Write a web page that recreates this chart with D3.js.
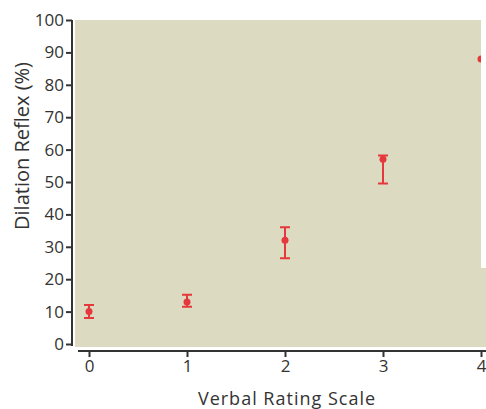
<!DOCTYPE html>
<html>
<head>
<meta charset="utf-8">
<script src="https://cdn.jsdelivr.net/npm/d3@7"></script>
<style>
  body { margin: 0; background: #fff; }
  text { font-family: 'Open Sans', 'Liberation Sans', sans-serif; fill: #333; }
</style>
</head>
<body>
<svg id="chart" width="486" height="409"></svg>
<script>
const ratings = [0, 1, 2, 3, 4];
const means = [10, 13, 32, 57, 88];
const lows = [8, 11.5, 26.5, 49.5, null];
const highs = [12, 15.2, 36, 58.2, null];
const yTicks = [0, 10, 20, 30, 40, 50, 60, 70, 80, 90, 100];

const width = 486,
  height = 409;

const svg = d3.select('#chart');

const x = d3.scaleLinear().domain([0, 4]).range([89, 481]);
const y = d3.scaleLinear().domain([0, 100]).range([344, 20]);

// plot panel
svg
  .append('rect')
  .attr('x', 75)
  .attr('y', 20)
  .attr('width', width - 75)
  .attr('height', 327)
  .attr('fill', '#dcdac0');

// y axis
svg
  .append('g')
  .attr('transform', 'translate(72,0)')
  .call(d3.axisLeft(y).tickValues(yTicks).tickSize(6).tickPadding(2))
  .call(g => g.select('.domain').attr('d', `M0,${y(100)}V${y(0) + 2}`))
  .call(g => g.selectAll('line, path').attr('stroke', '#333').attr('stroke-width', 2))
  .call(g => g.selectAll('text').attr('font-size', 17).attr('fill', '#333'));

// x axis
svg
  .append('g')
  .attr('transform', 'translate(0,351)')
  .call(d3.axisBottom(x).tickValues(ratings).tickFormat(d3.format('d')).tickSize(6).tickPadding(3))
  .call(g => g.select('.domain').attr('d', `M78,0H${width}`))
  .call(g => g.selectAll('line, path').attr('stroke', '#333').attr('stroke-width', 2))
  .call(g => g.selectAll('text').attr('font-size', 17).attr('fill', '#333'));

// axis titles
svg
  .append('text')
  .attr('x', 287)
  .attr('y', 405)
  .attr('text-anchor', 'middle')
  .attr('font-size', 18)
  .attr('letter-spacing', 1)
  .text('Verbal Rating Scale');

svg
  .append('text')
  .attr('transform', 'translate(29,62) rotate(-90)')
  .attr('text-anchor', 'end')
  .attr('font-size', 20)
  .text('Dilation Reflex (%)');

// error bars
const red = '#e5383d';
const bars = ratings
  .map((r, i) => ({ r, lo: lows[i], hi: highs[i] }))
  .filter(d => d.lo !== null);

svg
  .append('g')
  .selectAll('path')
  .data(bars)
  .join('path')
  .attr('fill', 'none')
  .attr('stroke', red)
  .attr('stroke-width', 2)
  .attr('d', d => {
    const cx = x(d.r);
    return `M${cx - 5},${y(d.hi)}H${cx + 5}M${cx},${y(d.hi)}V${y(d.lo)}M${cx - 5},${y(d.lo)}H${cx + 5}`;
  });

svg
  .append('g')
  .selectAll('circle')
  .data(ratings)
  .join('circle')
  .attr('cx', d => x(d))
  .attr('cy', (d, i) => y(means[i]))
  .attr('r', 3.5)
  .attr('fill', red);

// white strip on the right edge
svg
  .append('rect')
  .attr('x', 481)
  .attr('y', 20)
  .attr('width', 5)
  .attr('height', 248)
  .attr('fill', '#fff');
</script>
</body>
</html>
